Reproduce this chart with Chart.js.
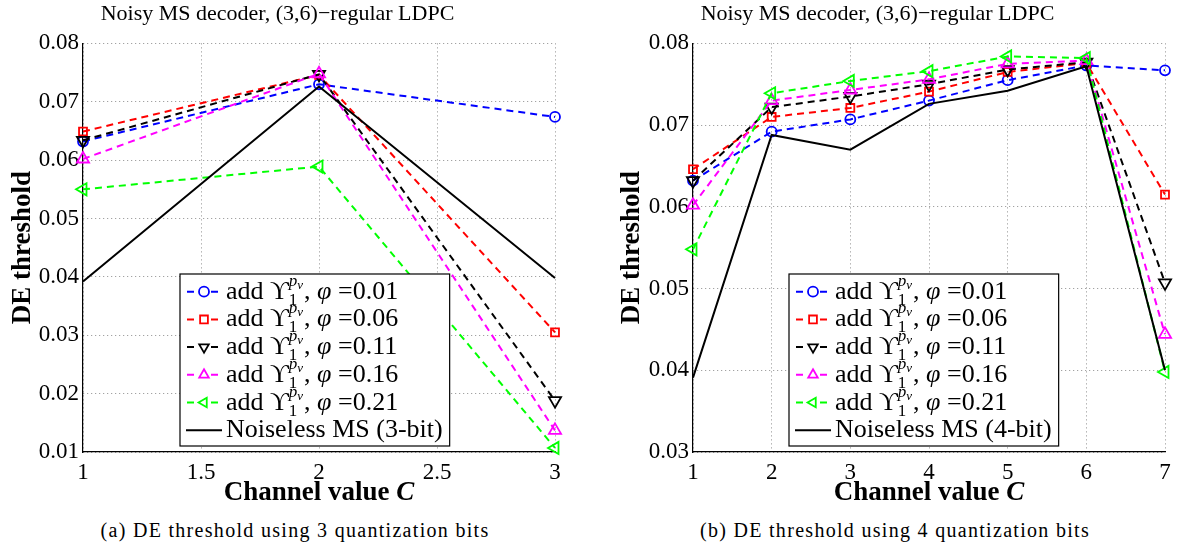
<!DOCTYPE html>
<html>
<head>
<meta charset="utf-8">
<script src="https://cdn.jsdelivr.net/npm/chart.js@4.4.0/dist/chart.umd.min.js"></script>
<style>
  body { margin: 0; background: #fff; width: 1180px; height: 551px; position: relative; overflow: hidden; font-family: "Liberation Serif", serif; }
  canvas { position: absolute; top: 0; }
  #left { left: 0; }
  #right { left: 590px; }
  .caption { position: absolute; top: 519px; width: 590px; text-align: center; font-size: 20px; letter-spacing: 1.3px; color: #000; }
</style>
</head>
<body>
<canvas id="left" width="590" height="509"></canvas>
<canvas id="right" width="590" height="509"></canvas>
<div class="caption" style="left:0">(a) DE threshold using 3 quantization bits</div>
<div class="caption" style="left:600px">(b) DE threshold using 4 quantization bits</div>
<script>
// ---- data ----
const phiLabels = ['0.01', '0.06', '0.11', '0.16', '0.21'];

// (a) 3 quantization bits
const xLeft = [1, 2, 3];
const leftPhi001 = [0.0632, 0.0730, 0.0674];
const leftPhi006 = [0.0649, 0.0746, 0.0305];
const leftPhi011 = [0.0634, 0.0747, 0.0188];
const leftPhi016 = [0.0602, 0.0748, 0.0137];
const leftPhi021 = [0.0550, 0.0589, 0.0107];
const leftNoiseless = [0.0392, 0.0726, 0.0398];
const leftXTicks = [1, 1.5, 2, 2.5, 3];

// (b) 4 quantization bits
const xRight = [1, 2, 3, 4, 5, 6, 7];
const rightPhi001 = [0.0632, 0.0692, 0.0707, 0.0730, 0.0755, 0.0773, 0.0767];
const rightPhi006 = [0.0646, 0.0710, 0.0721, 0.0741, 0.0765, 0.0776, 0.0615];
const rightPhi011 = [0.0632, 0.0722, 0.0735, 0.0750, 0.0768, 0.0777, 0.0507];
const rightPhi016 = [0.0602, 0.0730, 0.0743, 0.0756, 0.0775, 0.0779, 0.0444];
const rightPhi021 = [0.0548, 0.0739, 0.0754, 0.0766, 0.0784, 0.0782, 0.0398];
const rightNoiseless = [0.0391, 0.0688, 0.0670, 0.0726, 0.0742, 0.0772, 0.0400];

const titleText = 'Noisy MS decoder, (3,6)\u2212regular LDPC';
const xTitleText = 'Channel value ';
const xTitleVar = 'C';

// ---- styles ----
const colors = ['#0000ff', '#ff0000', '#000000', '#ff00ff', '#00ff00'];
const markerStyle = ['circle', 'rect', 'triangle', 'triangle', 'triangle'];
const markerRot = [0, 0, 180, 0, 270];
const markerSize = [5, 5.6, 7, 7, 7];
const serif = '"Liberation Serif", "DejaVu Serif", serif';
const legendSize = 26;

function makeDatasets(xs, series, noiseless, noiselessLabel) {
  const sets = series.map((ys, i) => ({
    label: 'add \u03D2, \u03C6 =' + phiLabels[i],
    phi: phiLabels[i],
    data: xs.map((x, j) => ({ x: x, y: ys[j] })),
    borderColor: colors[i],
    backgroundColor: 'rgba(0,0,0,0)',
    borderWidth: 2,
    borderDash: [7, 5],
    pointStyle: markerStyle[i],
    pointRotation: markerRot[i],
    pointRadius: markerSize[i],
    pointBorderWidth: 1.8,
    pointBorderColor: colors[i],
    pointBackgroundColor: 'rgba(0,0,0,0)',
    tension: 0,
    clip: false,
    order: 6 - i
  }));
  sets.push({
    label: noiselessLabel,
    data: xs.map((x, j) => ({ x: x, y: noiseless[j] })),
    borderColor: '#000000',
    borderWidth: 2,
    pointRadius: 0,
    tension: 0,
    clip: false,
    order: 0
  });
  return sets;
}

function drawMarker(ctx, style, rot, r, x, y) {
  ctx.beginPath();
  if (style === 'circle') {
    ctx.arc(x, y, r, 0, Math.PI * 2);
  } else if (style === 'rect') {
    const s = r * Math.SQRT1_2;
    ctx.rect(x - s, y - s, 2 * s, 2 * s);
  } else {
    let a = rot * Math.PI / 180;
    ctx.moveTo(x + Math.sin(a) * r, y - Math.cos(a) * r);
    for (let k = 0; k < 2; k++) {
      a += Math.PI * 2 / 3;
      ctx.lineTo(x + Math.sin(a) * r, y - Math.cos(a) * r);
    }
    ctx.closePath();
  }
  ctx.stroke();
}

// draws "add ϒ_1^{p_v}, φ =0.xx" piece by piece, returns its width
function drawRich(ctx, x, base, phi, measureOnly) {
  let cx = x;
  function put(t, f, dy) {
    ctx.font = f;
    if (!measureOnly) ctx.fillText(t, cx, base + dy);
    return ctx.measureText(t).width;
  }
  cx += put('add \u03D2', legendSize + 'px ' + serif, 0);
  const sx = cx;
  const wp = put('p', 'italic 17px ' + serif, -13);
  cx += wp;
  const wv = put('v', 'italic 13px ' + serif, -10);
  cx = sx;
  const w1 = put('1', '17px ' + serif, 6);
  cx = sx + Math.max(wp + wv, w1) + 1;
  cx += put(', ', legendSize + 'px ' + serif, 0);
  cx += put('\u03C6', 'italic ' + legendSize + 'px ' + serif, 0);
  cx += put(' =' + phi, legendSize + 'px ' + serif, 0);
  return cx - x;
}

const boxLegend = {
  id: 'boxLegend',
  afterDraw(chart) {
    // x axis title with an italic variable name
    const ctx = chart.ctx;
    const area = chart.chartArea;
    ctx.save();
    ctx.fillStyle = '#000';
    ctx.textBaseline = 'middle';
    ctx.font = 'bold 27px ' + serif;
    const w1 = ctx.measureText(xTitleText).width;
    ctx.font = 'italic bold 27px ' + serif;
    const w2 = ctx.measureText(xTitleVar).width;
    const x0 = (area.left + area.right) / 2 - (w1 + w2) / 2;
    const y0 = chart.scales.x.bottom - 16;
    ctx.font = 'bold 27px ' + serif;
    ctx.fillText(xTitleText, x0, y0);
    ctx.font = 'italic bold 27px ' + serif;
    ctx.fillText(xTitleVar, x0 + w1, y0);
    ctx.restore();
  },
  afterDatasetsDraw(chart, args, opts) {
    const ctx = chart.ctx;
    const area = chart.chartArea;
    const sets = chart.data.datasets;
    const rowH = 27.7;
    ctx.save();
    ctx.textBaseline = 'alphabetic';
    let maxW = 0;
    sets.forEach(ds => {
      let w;
      if (ds.phi) w = drawRich(ctx, 0, 0, ds.phi, true);
      else { ctx.font = legendSize + 'px ' + serif; w = ctx.measureText(ds.label).width; }
      maxW = Math.max(maxW, w);
    });
    const bx = area.left + opts.offsetX;
    const bh = 172;
    const by = area.bottom - 6 - bh;
    const bw = 46 + maxW + 7;
    ctx.fillStyle = '#ffffff';
    ctx.fillRect(bx, by, bw, bh);
    ctx.strokeStyle = '#000000';
    ctx.lineWidth = 1.2;
    ctx.strokeRect(bx, by, bw, bh);
    sets.forEach((ds, i) => {
      const cy = by + 17.7 + i * rowH;
      ctx.strokeStyle = ds.borderColor;
      ctx.lineWidth = 2;
      ctx.setLineDash(ds.borderDash ? [7, 5] : []);
      ctx.lineDashOffset = ds.borderDash ? -1 : 0;
      ctx.beginPath();
      ctx.moveTo(bx + 6, cy);
      ctx.lineTo(bx + 42, cy);
      ctx.stroke();
      ctx.setLineDash([]);
      if (ds.phi) {
        ctx.fillStyle = '#ffffff';
        ctx.beginPath();
        ctx.arc(bx + 24, cy, 6, 0, Math.PI * 2);
        ctx.fill();
        ctx.lineWidth = 1.8;
        drawMarker(ctx, ds.pointStyle, ds.pointRotation, Math.min(ds.pointRadius, 5.5), bx + 24, cy);
      }
      ctx.fillStyle = '#000000';
      if (ds.phi) drawRich(ctx, bx + 46, cy + 7, ds.phi, false);
      else { ctx.font = legendSize + 'px ' + serif; ctx.fillText(ds.label, bx + 46, cy + 7); }
    });
    ctx.restore();
  }
};

function makeChart(id, xs, series, noiseless, noiselessLabel, xTicks, yMin, yAxisWidth, yTitlePad, padRight, legendX) {
  return new Chart(document.getElementById(id), {
    type: 'line',
    data: { datasets: makeDatasets(xs, series, noiseless, noiselessLabel) },
    plugins: [boxLegend],
    options: {
      responsive: false,
      animation: false,
      devicePixelRatio: 1,
      layout: { padding: { top: 0, left: 0, right: padRight, bottom: 0 } },
      scales: {
        x: {
          type: 'linear',
          min: xTicks[0],
          max: xTicks[xTicks.length - 1],
          afterBuildTicks: (scale) => { scale.ticks = xTicks.map(v => ({ value: v })); },
          afterFit: (scale) => { scale.height = 57; },
          grid: { color: 'rgba(0,0,0,0.45)', drawTicks: false },
          border: { display: true, color: '#000000', width: 1.2, dash: [1, 3] },
          ticks: { color: '#000', padding: 7, font: { family: serif, size: 23 }, maxRotation: 0, callback: v => String(v) },
          title: { display: false }
        },
        y: {
          type: 'linear',
          min: yMin,
          max: 0.08,
          afterBuildTicks: (scale) => {
            const t = [];
            for (let k = Math.round(yMin * 100); k <= 8; k++) t.push({ value: k / 100 });
            scale.ticks = t;
          },
          afterFit: (scale) => { scale.width = yAxisWidth; },
          grid: { color: 'rgba(0,0,0,0.45)', drawTicks: false },
          border: { display: true, color: '#000000', width: 1.2, dash: [1, 3] },
          ticks: { color: '#000', padding: 4, font: { family: serif, size: 23 }, callback: v => Number(v).toFixed(2) },
          title: { display: true, text: 'DE threshold', color: '#000', padding: { top: yTitlePad, bottom: 0 }, font: { family: serif, size: 27, weight: 'bold' } }
        }
      },
      plugins: {
        legend: { display: false },
        tooltip: { enabled: false },
        title: { display: true, text: titleText, color: '#000', padding: { top: 1, bottom: 16 }, font: { family: serif, size: 22, weight: 'normal' } },
        boxLegend: { offsetX: legendX }
      }
    }
  });
}

const leftChart = makeChart('left', xLeft,
  [leftPhi001, leftPhi006, leftPhi011, leftPhi016, leftPhi021], leftNoiseless,
  'Noiseless MS (3-bit)', leftXTicks, 0.01, 83, 7, 35, 97);
const rightChart = makeChart('right', xRight,
  [rightPhi001, rightPhi006, rightPhi011, rightPhi016, rightPhi021], rightNoiseless,
  'Noiseless MS (4-bit)', xRight, 0.03, 103, 26, 15, 96);
</script>
</body>
</html>
